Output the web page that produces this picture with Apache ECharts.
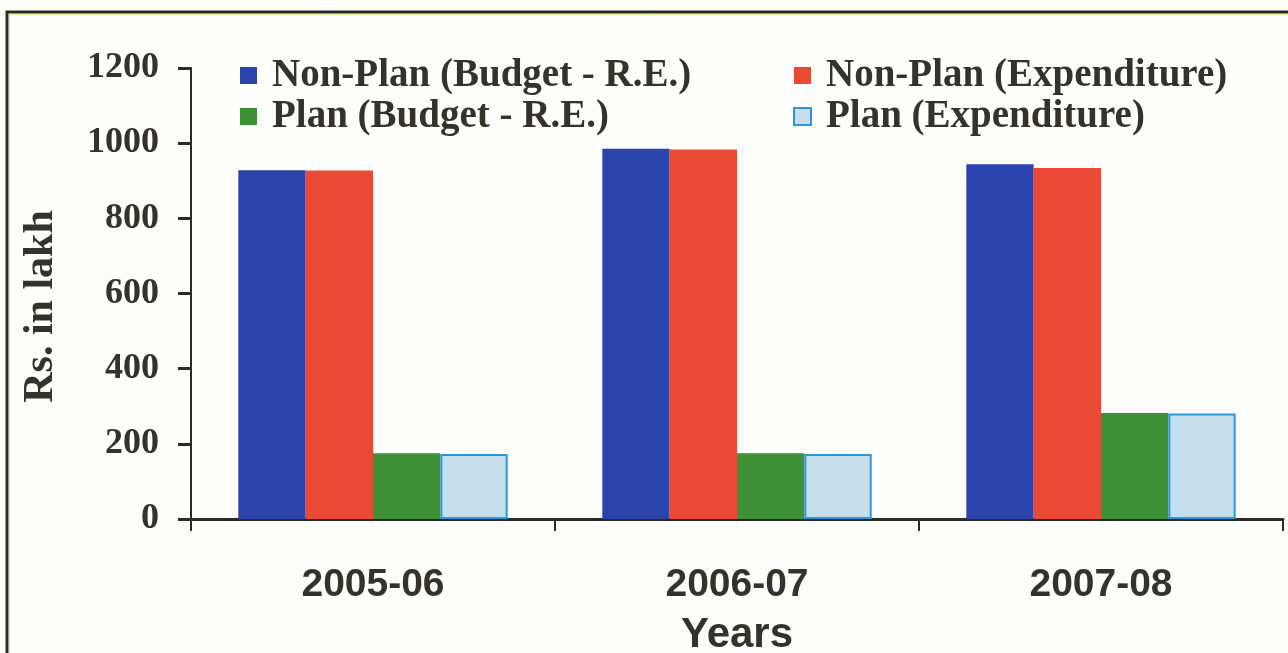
<!DOCTYPE html>
<html>
<head>
<meta charset="utf-8">
<script src="https://cdn.jsdelivr.net/npm/echarts@6/dist/echarts.min.js"></script>
<style>
html,body{margin:0;padding:0;background:#fdfdfb;}
#main{width:1288px;height:653px;}
</style>
</head>
<body>
<div id="main"></div>
<script>
const categories = ['2005-06', '2006-07', '2007-08'];
const nonPlanBudget = [928, 985, 944];
const nonPlanExpenditure = [927, 983, 934];
const planBudget = [175, 175, 282];
const planExpenditure = [173, 173, 281];
const seriesNames = ['Non-Plan (Budget - R.E.)', 'Non-Plan (Expenditure)', 'Plan (Budget - R.E.)', 'Plan (Expenditure)'];

const chart = echarts.init(document.getElementById('main'), null, {renderer: 'canvas'});
const serif = '"Liberation Serif", "Times New Roman", serif';
const narrow = '"Liberation Sans Narrow", "Arial Narrow", "Liberation Sans", sans-serif';
const textColor = '#33332c';

const legendText = {fontFamily: serif, fontWeight: 'bold', fontSize: 39, lineHeight: 38, color: textColor, padding: [0, 0, 0, 10]};

chart.setOption({
  backgroundColor: '#fdfdfb',
  animation: false,
  graphic: [{
    type: 'rect',
    shape: {x: 7, y: 12, width: 1320, height: 700},
    style: {fill: 'none', stroke: '#2a2a2a', lineWidth: 3},
    z: 100
  }, {
    type: 'rect',
    shape: {x: 9.5, y: 14.5, width: 1320, height: 700},
    style: {fill: 'none', stroke: '#f2ea9a', lineWidth: 1},
    z: 100
  }],
  legend: [{
    data: [seriesNames[0], seriesNames[2]],
    orient: 'vertical',
    left: 240,
    top: 56,
    padding: 0,
    itemWidth: 17,
    itemHeight: 17,
    itemGap: 2,
    icon: 'rect',
    textStyle: legendText
  }, {
    data: [seriesNames[1], seriesNames[3]],
    orient: 'vertical',
    left: 793,
    top: 56,
    padding: 0,
    itemWidth: 17,
    itemHeight: 17,
    itemGap: 2,
    icon: 'rect',
    textStyle: legendText
  }],
  grid: {left: 191, right: 5, top: 68, bottom: 134, containLabel: false, outerBoundsMode: 'none'},
  xAxis: {
    type: 'category',
    data: categories,
    name: 'Years',
    nameLocation: 'middle',
    nameGap: 95,
    nameTextStyle: {fontFamily: narrow, fontWeight: 'bold', fontSize: 42, color: textColor},
    axisLine: {show: true, lineStyle: {color: '#2a2a2a', width: 3}},
    axisTick: {show: true, length: 12, lineStyle: {color: '#2a2a2a', width: 2}},
    axisLabel: {margin: 47, fontFamily: narrow, fontWeight: 'bold', fontSize: 39, color: textColor},
    splitLine: {show: false}
  },
  yAxis: {
    type: 'value',
    min: 0,
    max: 1200,
    interval: 200,
    name: 'Rs. in lakh',
    nameLocation: 'middle',
    nameGap: 129,
    nameRotate: 90,
    nameTextStyle: {fontFamily: serif, fontWeight: 'bold', fontSize: 42, color: textColor, padding: [0, 26, 0, 0]},
    axisLine: {show: true, lineStyle: {color: '#2a2a2a', width: 2}},
    axisTick: {show: true, length: 13, lineStyle: {color: '#2a2a2a', width: 3}},
    axisLabel: {margin: 32, fontFamily: serif, fontWeight: 'bold', fontSize: 36, color: textColor, formatter: function (v) { return String(v); }},
    splitLine: {show: false}
  },
  series: [{
    name: seriesNames[0], type: 'bar', data: nonPlanBudget,
    barGap: '0%', barCategoryGap: '26%',
    itemStyle: {color: '#2b44ad'}
  }, {
    name: seriesNames[1], type: 'bar', data: nonPlanExpenditure,
    barGap: '0%', barCategoryGap: '26%',
    itemStyle: {color: '#ea4a33'}
  }, {
    name: seriesNames[2], type: 'bar', data: planBudget,
    barGap: '0%', barCategoryGap: '26%',
    itemStyle: {color: '#3f8f37'}
  }, {
    name: seriesNames[3], type: 'bar', data: planExpenditure,
    barGap: '0%', barCategoryGap: '26%',
    itemStyle: {color: '#c6dfec', borderColor: '#2b96dc', borderWidth: 2}
  }]
});
</script>
</body>
</html>
